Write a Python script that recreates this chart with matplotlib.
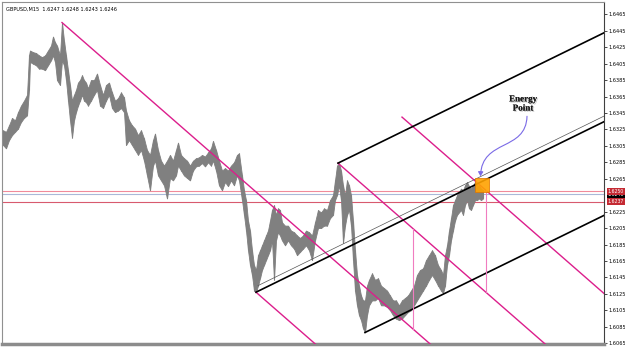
import matplotlib
matplotlib.use("Agg")
import matplotlib.pyplot as plt
import matplotlib.transforms as mtransforms
import matplotlib.patheffects as pe
from matplotlib.path import Path
from matplotlib.patches import FancyArrowPatch
import numpy as np

# GBPUSD M15 - bar index / high / low
bar = [3, 6, 9, 12, 15, 18, 21, 24, 27, 29, 30, 33, 36, 39, 42, 45, 48, 51, 53, 55,
       57, 60, 62, 64, 66, 68, 70, 72, 74, 76, 78, 80, 82, 84, 86, 88, 91, 94, 97, 100,
       103, 106, 109, 112, 115, 118, 121, 124, 126, 129, 132, 135, 138, 141, 144, 147, 150, 153, 155, 158,
       161, 164, 167, 170, 173, 176, 178, 181, 184, 187, 190, 193, 196, 199, 202, 205, 208, 211, 213, 216,
       219, 222, 225, 228, 231, 234, 237, 239, 242, 244, 246, 248, 250, 252, 254, 256, 258, 260, 262, 264,
       266, 268, 270, 272, 274, 276, 278, 280, 282, 285, 288, 291, 294, 297, 300, 303, 306, 309, 312, 315,
       318, 321, 324, 327, 330, 333, 335, 337, 339, 341, 343, 345, 347, 349, 351, 353, 355, 357, 359, 361,
       363, 365, 367, 369, 372, 375, 378, 381, 384, 387, 390, 393, 396, 399, 402, 405, 408, 411, 414, 417,
       420, 423, 426, 429, 432, 435, 438, 441, 443, 445, 447, 449, 451, 453, 455, 457, 459, 461, 463, 465,
       467, 469, 471, 473, 475, 477, 479, 481, 483]
high = [1.6324, 1.6322, 1.6330, 1.6339, 1.6336, 1.6346, 1.6354, 1.6360, 1.6367, 1.6415,
        1.6421, 1.6419, 1.6418, 1.6415, 1.6413, 1.6415, 1.6421, 1.6427, 1.6438, 1.6431,
        1.6427, 1.6415, 1.6455, 1.6433, 1.6415, 1.6397, 1.6379, 1.6360, 1.6367, 1.6373,
        1.6382, 1.6385, 1.6391, 1.6385, 1.6382, 1.6375, 1.6385, 1.6385, 1.6393, 1.6379,
        1.6367, 1.6379, 1.6382, 1.6370, 1.6360, 1.6363, 1.6370, 1.6364, 1.6348, 1.6336,
        1.6330, 1.6326, 1.6318, 1.6324, 1.6314, 1.6300, 1.6294, 1.6312, 1.6320, 1.6300,
        1.6287, 1.6281, 1.6287, 1.6294, 1.6287, 1.6300, 1.6309, 1.6294, 1.6290, 1.6287,
        1.6281, 1.6287, 1.6290, 1.6291, 1.6294, 1.6292, 1.6297, 1.6302, 1.6311, 1.6300,
        1.6287, 1.6275, 1.6278, 1.6275, 1.6281, 1.6285, 1.6294, 1.6296, 1.6269, 1.6251,
        1.6239, 1.6214, 1.6202, 1.6178, 1.6160, 1.6154, 1.6172, 1.6178, 1.6184, 1.6190,
        1.6196, 1.6202, 1.6214, 1.6227, 1.6233, 1.6221, 1.6229, 1.6227, 1.6212, 1.6208,
        1.6208, 1.6202, 1.6200, 1.6196, 1.6193, 1.6196, 1.6202, 1.6200, 1.6196, 1.6212,
        1.6227, 1.6224, 1.6229, 1.6227, 1.6239, 1.6245, 1.6263, 1.6281, 1.6284, 1.6275,
        1.6257, 1.6245, 1.6263, 1.6257, 1.6245, 1.6214, 1.6178, 1.6148, 1.6135, 1.6123,
        1.6117, 1.6117, 1.6135, 1.6142, 1.6150, 1.6142, 1.6144, 1.6135, 1.6132, 1.6129,
        1.6123, 1.6117, 1.6117, 1.6111, 1.6117, 1.6120, 1.6123, 1.6129, 1.6135, 1.6148,
        1.6154, 1.6156, 1.6166, 1.6172, 1.6178, 1.6172, 1.6160, 1.6154, 1.6148, 1.6172,
        1.6184, 1.6202, 1.6217, 1.6233, 1.6239, 1.6245, 1.6249, 1.6253, 1.6251, 1.6257,
        1.6261, 1.6256, 1.6253, 1.6257, 1.6261, 1.6257, 1.6257, 1.6253, 1.6251]
low = [1.6306, 1.6302, 1.6312, 1.6318, 1.6322, 1.6326, 1.6334, 1.6339, 1.6342, 1.6373,
       1.6407, 1.6405, 1.6403, 1.6399, 1.6399, 1.6397, 1.6403, 1.6409, 1.6415, 1.6407,
       1.6385, 1.6379, 1.6409, 1.6403, 1.6385, 1.6360, 1.6336, 1.6315, 1.6336, 1.6346,
       1.6354, 1.6360, 1.6367, 1.6360, 1.6358, 1.6354, 1.6360, 1.6367, 1.6373, 1.6354,
       1.6351, 1.6360, 1.6367, 1.6351, 1.6346, 1.6348, 1.6351, 1.6346, 1.6306, 1.6312,
       1.6306, 1.6300, 1.6294, 1.6300, 1.6287, 1.6269, 1.6251, 1.6281, 1.6287, 1.6269,
       1.6263, 1.6257, 1.6241, 1.6266, 1.6263, 1.6269, 1.6281, 1.6275, 1.6269, 1.6266,
       1.6263, 1.6275, 1.6280, 1.6281, 1.6284, 1.6280, 1.6285, 1.6281, 1.6287, 1.6275,
       1.6257, 1.6251, 1.6261, 1.6256, 1.6263, 1.6257, 1.6269, 1.6263, 1.6239, 1.6221,
       1.6202, 1.6178, 1.6160, 1.6148, 1.6129, 1.6127, 1.6135, 1.6144, 1.6154, 1.6160,
       1.6166, 1.6172, 1.6178, 1.6190, 1.6142, 1.6190, 1.6200, 1.6196, 1.6190, 1.6184,
       1.6190, 1.6184, 1.6180, 1.6172, 1.6176, 1.6180, 1.6184, 1.6178, 1.6166, 1.6190,
       1.6205, 1.6205, 1.6208, 1.6208, 1.6217, 1.6221, 1.6239, 1.6245, 1.6257, 1.6239,
       1.6187, 1.6208, 1.6221, 1.6227, 1.6208, 1.6166, 1.6129, 1.6111, 1.6099, 1.6093,
       1.6083, 1.6078, 1.6099, 1.6111, 1.6117, 1.6117, 1.6120, 1.6111, 1.6111, 1.6109,
       1.6105, 1.6099, 1.6095, 1.6093, 1.6095, 1.6099, 1.6103, 1.6105, 1.6111, 1.6117,
       1.6123, 1.6129, 1.6135, 1.6142, 1.6148, 1.6142, 1.6135, 1.6129, 1.6126, 1.6135,
       1.6160, 1.6172, 1.6190, 1.6202, 1.6214, 1.6221, 1.6224, 1.6227, 1.6221, 1.6233,
       1.6239, 1.6229, 1.6227, 1.6233, 1.6239, 1.6239, 1.6241, 1.6239, 1.6241]

header = "GBPUSD,M15  1.6247 1.6248 1.6243 1.6246"
# 1.6245 sits behind the price boxes, so it is not shown
price_ticks = [1.6465, 1.6445, 1.6425, 1.6405, 1.6385, 1.6365, 1.6345, 1.6325, 1.6305, 1.6285,
               1.6265, 1.6225, 1.6205, 1.6185, 1.6165, 1.6145, 1.6125, 1.6105, 1.6085, 1.6065]

# magenta parallels (start bar, start price), all with the same slope
magenta_starts = [(62, 1.6455), (256, 1.6127), (338, 1.6284), (402, 1.6340)]
magenta_slope = -0.0001062
# black channel lines (start bar, start price, style)
channel_starts = [(256, 1.6127, "thick"), (258, 1.6135, "thin"), (338, 1.6284, "thick"), (365, 1.6078, "thick")]
channel_slope = 0.0000596
# vertical time markers: bar, from magenta line idx, to magenta line idx
cycle_marks = [(413, 2, 0), (486, 3, 2)]

level_hi = 1.6250
level_bid = 1.6246
level_lo = 1.6237

energy_bar, energy_price = 481.5, 1.6257

fig = plt.figure(figsize=(6.25, 3.49), dpi=100)
ax = fig.add_axes([2 / 625, 5 / 349, 602 / 625, 342 / 349])
ax.set_xlim(2, 604)
ax.set_ylim(1.6064, 1.6480)

# price bars
bx = np.array(bar)
ax.fill_between(bx, low, high, color="#808080", lw=0.6, edgecolor="#808080", zorder=2)
ax.vlines(bx, low, high, color="#808080", lw=0.8, zorder=2)

# horizontal levels
ax.axhline(level_hi, color="#f08a9a", lw=0.8, zorder=1)
ax.axhline(level_bid, color="#aab8d8", lw=0.8, zorder=1)
ax.axhline(level_lo, color="#d85a6e", lw=0.8, zorder=1)


def magenta_at(i, x):
    x0, p0 = magenta_starts[i]
    return p0 + magenta_slope * (x - x0)


for x0, p0 in magenta_starts:
    xs = np.array([x0, 700])
    ax.plot(xs, p0 + magenta_slope * (xs - x0), color="#dc1e8c", lw=1.0, zorder=3)

for x0, p0, style in channel_starts:
    xs = np.array([x0, 700])
    if style == "thick":
        ax.plot(xs, p0 + channel_slope * (xs - x0), color="black", lw=1.2, zorder=3)
    else:
        ax.plot(xs, p0 + channel_slope * (xs - x0), color="#555555", lw=0.5, zorder=3)

for xb, top_i, bot_i in cycle_marks:
    ax.plot([xb, xb], [magenta_at(top_i, xb), magenta_at(bot_i, xb)],
            color="#f07cc0", lw=0.8, zorder=3)

# energy point
ax.plot(energy_bar, energy_price, marker="s", markersize=9.5, color="#ffa200",
        mec="#e07800", mew=0.6, alpha=0.9, zorder=4)

txt = ax.text(523, 1.6356, "Energy\nPoint", ha="center", va="center", fontsize=6.5,
              fontweight="bold", family="Liberation Serif", color="#1a1a1a",
              linespacing=1.2, zorder=5)
txt.set_path_effects([pe.withSimplePatchShadow(offset=(0.8, -0.8), shadow_rgbFace="#b0b0b0", alpha=0.8),
                      pe.Normal()])

arrow_path = Path([(527, 1.6341), (526, 1.6298), (482, 1.6314), (480.5, 1.6268)],
                  [Path.MOVETO, Path.CURVE4, Path.CURVE4, Path.CURVE4])
arrow = FancyArrowPatch(path=arrow_path, arrowstyle="-|>,head_length=2.5,head_width=1.5",
                        color="#7a6ae6", lw=0.8, zorder=5)
ax.add_patch(arrow)

# axes look
ax.yaxis.tick_right()
ax.set_yticks(price_ticks)
ax.set_yticklabels([f"{p:.4f}" for p in price_ticks])
ax.tick_params(axis="y", labelsize=3.6, length=2, width=0.5, pad=1.5, colors="black")
ax.set_xticks([])
for side in ["left", "top"]:
    ax.spines[side].set_color("#909090")
    ax.spines[side].set_linewidth(0.8)
ax.spines["bottom"].set_color("#8c8c8c")
ax.spines["bottom"].set_linewidth(2.5)
ax.spines["right"].set_color("#404040")
ax.spines["right"].set_linewidth(0.8)

ax.text(0.006, 0.985, header, transform=ax.transAxes, fontsize=3.6, va="top", ha="left")

trans = mtransforms.blended_transform_factory(ax.transAxes, ax.transData)
for price, face in [(level_bid, "black"), (level_hi, "#c42a33"), (level_lo, "#c42a33")]:
    ax.text(1.006, price, f"{price:.4f}", transform=trans, fontsize=3.3, color="white",
            va="center", ha="left", zorder=6, clip_on=False,
            bbox=dict(boxstyle="square,pad=0.2", fc=face, ec="none"))

fig.savefig("out.png", dpi=100)
